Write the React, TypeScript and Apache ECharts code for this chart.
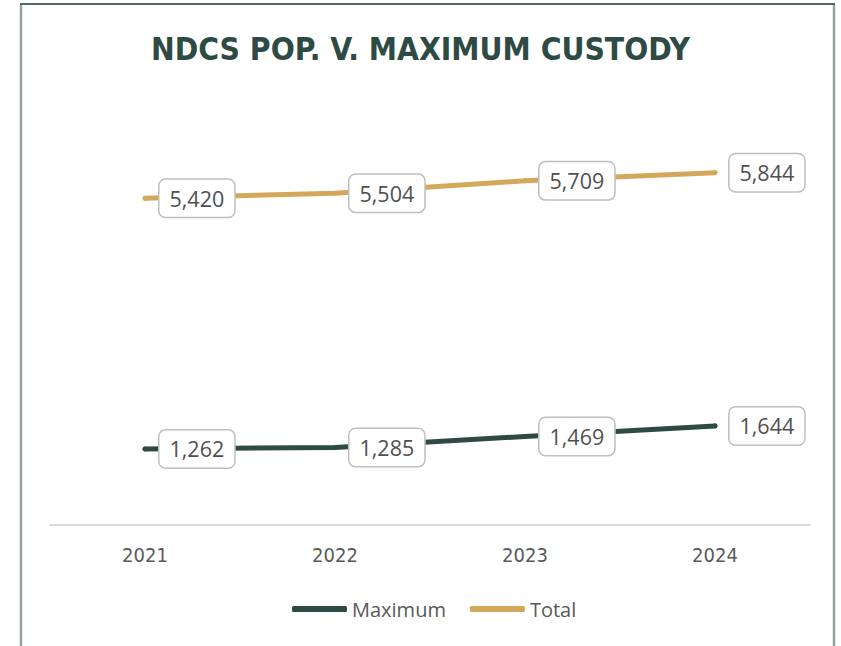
import React, { useEffect, useRef } from "react";
import * as echarts from "echarts";

const categories = ["2021", "2022", "2023", "2024"];
const maximumValues = [1262, 1285, 1469, 1644];
const totalValues = [5420, 5504, 5709, 5844];
const seriesNames = ["Maximum", "Total"];
const titleText = "NDCS POP. V. MAXIMUM CUSTODY";

export default function App() {
  const ref = useRef<HTMLDivElement>(null);
  useEffect(() => {
    if (!ref.current) return;
    const chart = echarts.init(ref.current, null, { renderer: "svg" });
    const labelStyle = {
      show: true,
      position: "right" as const,
      distance: 12,
      formatter: (p: any) => Number(p.value).toLocaleString("en-US"),
      fontFamily: "Open Sans",
      fontSize: 21.5,
      color: "#505050",
      backgroundColor: "#ffffff",
      borderColor: "#bfbfbf",
      borderWidth: 1.5,
      borderRadius: 6,
      padding: [8, 10, 7, 10],
    };
    chart.setOption({
      animation: false,
      backgroundColor: "#ffffff",
      title: {
        text: titleText,
        left: "center",
        top: 28,
        textStyle: {
          fontFamily: "'Liberation Sans Narrow', 'DejaVu Sans Condensed', 'Open Sans'",
          fontWeight: "bold",
          fontSize: 31.5,
          color: "#2e4a44",
        },
      },
      graphic: [
        { type: "line", shape: { x1: 21, y1: 660, x2: 21, y2: 4 }, style: { stroke: "#93a5a0", lineWidth: 2.5 } },
        { type: "line", shape: { x1: 834, y1: 660, x2: 834, y2: 4 }, style: { stroke: "#93a5a0", lineWidth: 2.5 } },
        { type: "line", shape: { x1: 20, y1: 4, x2: 835, y2: 4 }, style: { stroke: "#4f6964", lineWidth: 2 } },
      ],
      legend: {
        data: seriesNames,
        left: 287,
        top: 594,
        itemWidth: 55,
        itemHeight: 6,
        itemGap: 24,
        icon: "roundRect",
        textStyle: {
          fontFamily: "'Open Sans'",
          fontSize: 20,
          color: "#595959",
        },
      },
      grid: { left: 50, right: 31, top: 103, bottom: 121 },
      xAxis: {
        type: "category",
        data: categories,
        boundaryGap: true,
        axisLine: { lineStyle: { color: "#d9d9d9", width: 2 } },
        axisTick: { show: false },
        axisLabel: {
          margin: 20,
          fontFamily: "'Liberation Sans Narrow', 'DejaVu Sans Condensed', 'Open Sans'",
          fontSize: 20,
          color: "#595959",
        },
      },
      yAxis: {
        type: "value",
        min: 0,
        max: 7000,
        interval: 1000,
        show: false,
        splitLine: { show: false },
      },
      series: [
        {
          name: seriesNames[0],
          type: "line",
          data: maximumValues,
          symbol: "circle",
          symbolSize: 5,
          color: "#2e4a44",
          itemStyle: { color: "#2e4a44" },
          lineStyle: { width: 5, cap: "round", color: "#2e4a44" },
          label: labelStyle,
          z: 2,
        },
        {
          name: seriesNames[1],
          type: "line",
          data: totalValues,
          symbol: "circle",
          symbolSize: 5,
          color: "#d4a85a",
          itemStyle: { color: "#d4a85a" },
          lineStyle: { width: 5, cap: "round", color: "#d4a85a" },
          label: labelStyle,
          z: 2,
        },
      ],
    });
    return () => chart.dispose();
  }, []);
  return (
    <div
      ref={ref}
      style={{ position: "absolute", left: 0, top: 0, width: 841, height: 646 }}
    />
  );
}
